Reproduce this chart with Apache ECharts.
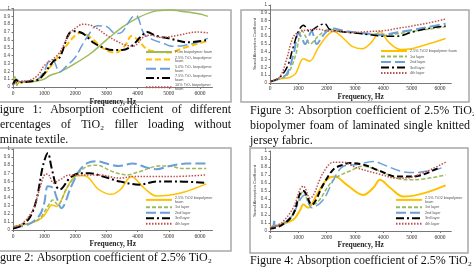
<!DOCTYPE html>
<html>
<head>
<meta charset="utf-8">
<script src="https://cdn.jsdelivr.net/npm/echarts@6/dist/echarts.min.js"></script>
<style>
  html, body { margin: 0; padding: 0; background: #fff; }
  #main { width: 474px; height: 267px; }
</style>
</head>
<body>
<div id="main"></div>
<script>
// frequency (Hz) / absorption coefficient pairs
// Figure 1 - TiO2 loading, no textile
var f1Pure = [[0,0.1],[60,0.13],[120,0.02],[200,0.06],[500,0.06],[800,0.08],[1000,0.1],[1200,0.15],[1500,0.19],[2000,0.3],[2500,0.43],[3000,0.6],[3500,0.76],[4000,0.88],[4500,0.96],[5000,0.98],[5500,0.96],[6000,0.93],[6250,0.9]];
var f1Ti25 = [[0,0.04],[100,0.1],[200,0.06],[500,0.07],[800,0.1],[1000,0.16],[1200,0.26],[1400,0.36],[1700,0.52],[2000,0.66],[2200,0.69],[2500,0.63],[2800,0.52],[3100,0.45],[3300,0.44],[3600,0.53],[3800,0.65],[4000,0.6],[4300,0.48],[4600,0.45],[5000,0.44],[5500,0.5],[6000,0.56],[6250,0.59]];
var f1Ti50 = [[0,0.02],[100,0.1],[200,0.07],[500,0.07],[800,0.1],[1000,0.2],[1200,0.35],[1300,0.34],[1500,0.19],[1700,0.26],[2000,0.38],[2200,0.52],[2400,0.65],[2700,0.78],[3000,0.77],[3300,0.68],[3500,0.7],[3800,0.88],[3950,0.91],[4200,0.68],[4500,0.6],[4800,0.56],[5100,0.52],[5500,0.53],[5900,0.57],[6250,0.62]];
var f1Ti75 = [[0,0.03],[100,0.09],[200,0.06],[500,0.07],[800,0.09],[1000,0.17],[1300,0.33],[1500,0.38],[1800,0.68],[2000,0.71],[2250,0.68],[2600,0.56],[2900,0.5],[3200,0.47],[3500,0.47],[3800,0.52],[4100,0.64],[4300,0.7],[4600,0.65],[5000,0.62],[5600,0.57],[6250,0.6]];
var f1Ti100 = [[0,0.03],[200,0.07],[500,0.08],[800,0.15],[1000,0.27],[1300,0.36],[1500,0.44],[1800,0.67],[2000,0.75],[2250,0.8],[2600,0.77],[3000,0.66],[3500,0.55],[3850,0.52],[4200,0.64],[4400,0.66],[4800,0.63],[5300,0.66],[5900,0.7],[6250,0.69]];

// Figure 3 - laminated single knitted jersey
var f3Foam = [[0,0.01],[300,0.05],[700,0.07],[900,0.12],[1180,0.31],[1400,0.28],[1700,0.45],[2000,0.6],[2240,0.66],[2600,0.57],[2900,0.47],[3250,0.44],[3600,0.53],[3880,0.66],[4200,0.52],[4600,0.43],[5000,0.44],[5500,0.49],[6200,0.57]];
var f3L1 = [[0,0.01],[300,0.05],[600,0.1],[900,0.35],[1120,0.68],[1250,0.6],[1420,0.5],[1650,0.58],[1900,0.66],[2100,0.69],[2500,0.66],[3000,0.64],[3500,0.63],[4000,0.61],[4500,0.63],[5000,0.66],[5600,0.69],[6200,0.72]];
var f3L2 = [[0,0.02],[300,0.05],[600,0.12],[850,0.4],[1000,0.64],[1120,0.58],[1240,0.5],[1470,0.66],[1650,0.5],[1850,0.6],[2000,0.66],[2200,0.7],[2600,0.67],[3000,0.65],[3500,0.63],[4000,0.62],[4500,0.65],[5000,0.68],[5600,0.72],[6200,0.76]];
var f3L3 = [[0,0.02],[300,0.06],[600,0.2],[820,0.46],[1000,0.66],[1180,0.74],[1400,0.66],[1650,0.72],[1940,0.76],[2100,0.69],[2500,0.66],[3000,0.64],[3500,0.62],[4000,0.6],[4500,0.6],[5000,0.65],[5600,0.7],[6200,0.73]];
var f3L4 = [[0,0.02],[350,0.08],[590,0.31],[820,0.59],[1060,0.66],[1350,0.68],[1650,0.69],[2000,0.67],[2400,0.66],[3000,0.65],[3500,0.66],[4000,0.67],[4500,0.7],[5000,0.73],[5600,0.77],[6200,0.82]];

// Figure 2
var f2Foam = [[0,0.04],[500,0.08],[800,0.12],[1000,0.18],[1200,0.3],[1250,0.31],[1400,0.29],[1550,0.37],[1800,0.57],[2050,0.67],[2300,0.67],[2750,0.5],[3150,0.44],[3450,0.5],[3800,0.66],[4200,0.52],[4600,0.42],[5000,0.43],[5500,0.47],[6200,0.57]];
var f2L1 = [[0,0.04],[500,0.08],[850,0.14],[1100,0.28],[1280,0.37],[1440,0.31],[1700,0.5],[2030,0.68],[2350,0.78],[2670,0.8],[3200,0.72],[3650,0.68],[4050,0.72],[4700,0.79],[5050,0.79],[5400,0.76],[6200,0.76]];
var f2L2 = [[0,0.03],[500,0.07],[850,0.18],[1000,0.33],[1120,0.54],[1280,0.52],[1400,0.4],[1550,0.27],[1870,0.54],[2140,0.74],[2400,0.83],[2670,0.85],[3100,0.81],[3400,0.79],[3850,0.82],[4300,0.77],[4600,0.75],[5030,0.79],[5560,0.82],[6200,0.82]];
var f2L3 = [[0,0.02],[200,0.04],[530,0.15],[750,0.37],[960,0.79],[1120,0.95],[1230,0.78],[1390,0.54],[1500,0.5],[1820,0.64],[2140,0.7],[2460,0.7],[2890,0.66],[3420,0.6],[4060,0.56],[4600,0.6],[5240,0.6],[6200,0.58]];
var f2L4 = [[0,0.04],[300,0.08],[640,0.25],[850,0.5],[1050,0.69],[1150,0.68],[1300,0.58],[1500,0.62],[1820,0.68],[2140,0.68],[2780,0.68],[3420,0.64],[3850,0.66],[4400,0.66],[5130,0.66],[6200,0.68]];

// Figure 4
var f4Foam = [[0,0.05],[350,0.08],[820,0.14],[1060,0.26],[1180,0.33],[1350,0.29],[1650,0.45],[2000,0.64],[2290,0.68],[2700,0.58],[3290,0.45],[3650,0.54],[3880,0.64],[4240,0.54],[4710,0.43],[5410,0.47],[6200,0.57]];
var f4L1 = [[0,0.05],[400,0.08],[800,0.2],[1060,0.43],[1180,0.5],[1410,0.33],[1650,0.35],[2240,0.64],[2820,0.75],[3290,0.81],[3880,0.75],[4470,0.66],[5060,0.64],[6200,0.7]];
var f4L2 = [[0,0.02],[100,0.05],[150,0.15],[200,0.06],[500,0.1],[800,0.2],[1060,0.39],[1240,0.45],[1470,0.29],[1880,0.39],[2240,0.64],[2590,0.81],[3060,0.83],[3650,0.87],[4000,0.83],[4590,0.75],[5060,0.73],[5880,0.77],[6200,0.81]];
var f4L3 = [[0,0.03],[400,0.07],[800,0.2],[1060,0.47],[1180,0.5],[1470,0.33],[1880,0.58],[2240,0.77],[2590,0.83],[2820,0.85],[3290,0.83],[3880,0.75],[4470,0.68],[5060,0.68],[6000,0.8]];
var f4L4 = [[0,0.04],[400,0.1],[820,0.29],[1060,0.52],[1180,0.56],[1410,0.41],[1880,0.73],[2240,0.86],[2590,0.86],[3060,0.79],[3880,0.71],[4470,0.66],[5060,0.68],[6200,0.86]];

var fig1Names = ['Pure biopolymer foam', '2.5% TiO₂ biopolymer\nfoam', '5.0% TiO₂ biopolymer\nfoam', '7.5% TiO₂ biopolymer\nfoam', '10% TiO₂ biopolymer\nfoam'];
var layerNames = ['1st layer', '2nd layer', '3rd layer', '4th layer'];
var foamName = '2.5% TiO2 biopolymer foam';
var foamName2 = '2.5% TiO2 biopolymer\nfoam';

var GREEN = '#9BBB59', GOLD = '#FFC000', BLUE = '#6A9FD8', BLACK = '#000000', RED = '#C0504D';
var SERIF = '"Liberation Serif", "DejaVu Serif", serif';

var chart = echarts.init(document.getElementById('main'));

function line(name, data, idx, color, type, width) {
  return {
    name: name, type: 'line', xAxisIndex: idx, yAxisIndex: idx,
    data: data, smooth: 0.35, symbol: 'none', animation: false,
    lineStyle: { color: color, type: type, width: width || 1.5 },
    itemStyle: { color: color }
  };
}

var grids = [
  { left: 13, top: 8.5, width: 199.5, height: 78.5 },
  { left: 270, top: 5, width: 181.3, height: 78 },
  { left: 13, top: 149, width: 199.5, height: 81 },
  { left: 270, top: 151, width: 181.3, height: 80 }
];

function xAxis(i, gap, margin) {
  return {
    type: 'value', gridIndex: i, min: 0, max: 6400, interval: 1000,
    name: 'Frequency, Hz', nameLocation: 'middle', nameGap: gap,
    nameTextStyle: { fontFamily: SERIF, fontSize: 7.5, fontWeight: 'bold', color: '#222' },
    axisLine: { lineStyle: { color: '#777', width: 1 } },
    axisTick: { length: 2, lineStyle: { color: '#777' } },
    axisLabel: { fontFamily: SERIF, fontSize: 5.5, color: '#333', margin: margin, showMaxLabel: false,
      formatter: function (v) { return String(v); } },
    splitLine: { show: false }
  };
}
function yAxis(i, title) {
  return {
    type: 'value', gridIndex: i, min: 0, max: 1, interval: 0.1,
    name: title ? 'Sound Absorption Coefficient' : '', nameLocation: 'middle', nameGap: 13,
    nameTextStyle: { fontSize: 4, color: '#333' },
    axisLine: { show: true, lineStyle: { color: '#777', width: 1 } },
    axisTick: { show: true, length: 1.5, lineStyle: { color: '#777' } },
    axisLabel: { fontSize: 4.5, color: '#444', margin: 3 },
    splitLine: { show: false }
  };
}

function legend(left, top, names) {
  return {
    left: left, top: top, orient: 'vertical', itemWidth: 26, itemHeight: 5, itemGap: 1.5,
    padding: 0, selectedMode: false, data: names,
    itemStyle: { opacity: 0 },
    textStyle: { fontSize: 3.8, lineHeight: 3.8, color: '#555', padding: [0, 0, 0, -2] }
  };
}

// caption text, justified word by word
var ctx = document.createElement('canvas').getContext('2d');
var CAPFONT = '12px ' + SERIF;
function textEl(t, x, y) {
  return { type: 'text', x: x, y: y, silent: true,
    style: { text: t, font: CAPFONT, fill: '#111', verticalAlign: 'middle' } };
}
function caption(str, x0, x1, y) {
  ctx.font = CAPFONT;
  var words = str.split(' ');
  if (x1 == null) return [textEl(str, x0, y)];
  var total = 0;
  words.forEach(function (w) { total += ctx.measureText(w).width; });
  var gap = (x1 - x0 - total) / (words.length - 1);
  var out = [], x = x0;
  words.forEach(function (w) {
    out.push(textEl(w, x, y));
    x += ctx.measureText(w).width + gap;
  });
  return out;
}

function frame(x, y, w, h) {
  return { type: 'rect', silent: true, z: -10, shape: { x: x, y: y, width: w, height: h },
    style: { fill: 'none', stroke: '#a8a8a8', lineWidth: 1.5 } };
}

var graphics = [
  frame(-3, 10, 234, 92),
  frame(241, 10, 228, 92),
  frame(-3, 148, 234, 103),
  frame(250, 148, 218, 105)
];
graphics = graphics
  .concat(caption('Figure 1: Absorption coefficient of different', -7, 231, 110))
  .concat(caption('percentages of TiO₂ filler loading without', -6, 231, 125))
  .concat(caption('laminate textile.', -9, null, 140))
  .concat(caption('Figure 3: Absorption coefficient of 2.5% TiO₂', 250, 476, 111))
  .concat(caption('biopolymer foam of laminated single knitted', 250, 470, 126))
  .concat(caption('jersey fabric.', 250, null, 141))
  .concat(caption('Figure 2: Absorption coefficient of 2.5% TiO₂', -10, null, 258))
  .concat(caption('Figure 4: Absorption coefficient of 2.5% TiO₂', 250, null, 261));

var option = {
  backgroundColor: '#fff',
  animation: false,
  grid: grids,
  xAxis: [xAxis(0, 9.5, 4), xAxis(1, 9.5, 3), xAxis(2, 8.5, 3.5), xAxis(3, 10.5, 3.5)],
  yAxis: [yAxis(0, false), yAxis(1, true), yAxis(2, false), yAxis(3, true)],
  legend: [
    legend(145, 50, fig1Names),
    legend(380, 49, [foamName].concat(layerNames)),
    legend(145, 196, [foamName2].concat(layerNames)),
    legend(395, 196, [foamName2].concat(layerNames))
  ],
  graphic: graphics,
  series: [
    line(fig1Names[0], f1Pure, 0, GREEN, 'solid', 1.5),
    line(fig1Names[1], f1Ti25, 0, GOLD, [6, 3], 2),
    line(fig1Names[2], f1Ti50, 0, BLUE, [10, 4], 1.5),
    line(fig1Names[3], f1Ti75, 0, BLACK, [8, 3, 2, 3], 2),
    line(fig1Names[4], f1Ti100, 0, RED, [1.5, 1.5], 1.5),

    line(foamName, f3Foam, 1, GOLD, 'solid', 1.5),
    line(layerNames[0], f3L1, 1, GREEN, [4, 2], 1.5),
    line(layerNames[1], f3L2, 1, BLUE, [10, 4], 2),
    line(layerNames[2], f3L3, 1, BLACK, [8, 3, 2, 3], 1.5),
    line(layerNames[3], f3L4, 1, RED, [1.5, 1.5], 1.5),

    line(foamName2, f2Foam, 2, GOLD, 'solid', 1.5),
    line(layerNames[0], f2L1, 2, GREEN, [4, 2], 1.5),
    line(layerNames[1], f2L2, 2, BLUE, [10, 4], 2),
    line(layerNames[2], f2L3, 2, BLACK, [8, 3, 2, 3], 2),
    line(layerNames[3], f2L4, 2, RED, [1.5, 1.5], 1.5),

    line(foamName2, f4Foam, 3, GOLD, 'solid', 2),
    line(layerNames[0], f4L1, 3, GREEN, [4, 2], 1.5),
    line(layerNames[1], f4L2, 3, BLUE, [10, 4], 1.5),
    line(layerNames[2], f4L3, 3, BLACK, [6, 3], 2),
    line(layerNames[3], f4L4, 3, RED, [1.5, 1.5], 1.5)
  ]
};
chart.setOption(option);
</script>
</body>
</html>
